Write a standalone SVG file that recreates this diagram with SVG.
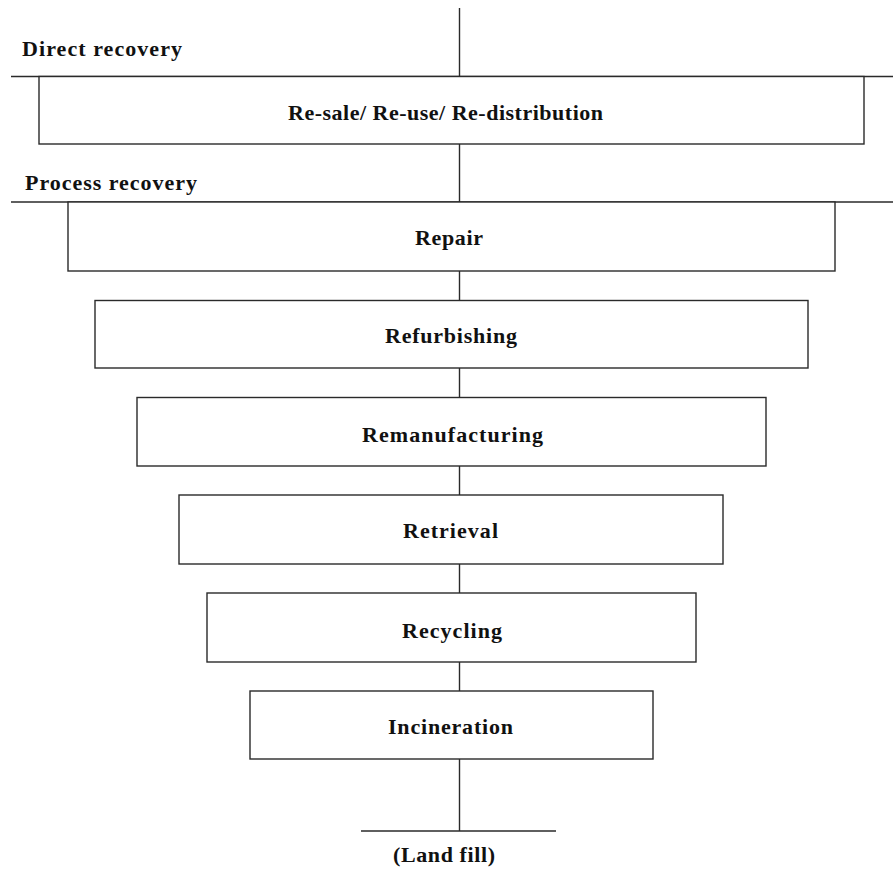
<svg xmlns="http://www.w3.org/2000/svg" width="893" height="870" viewBox="0 0 893 870">
<style>
.ln{stroke:#2a2a2a;stroke-width:1.4;fill:none}
.bx{stroke:#2a2a2a;stroke-width:1.4;fill:#fff}
.t{font-family:"Liberation Serif","Times New Roman",serif;font-weight:bold;font-size:22px;fill:#111}
</style>
<rect x="0" y="0" width="893" height="870" fill="#fff"/>
<g id="connectors">
<line class="ln" x1="459.5" y1="8" x2="459.5" y2="76.5"/>
<line class="ln" x1="11" y1="76.5" x2="893" y2="76.5"/>
<line class="ln" x1="459.5" y1="144" x2="459.5" y2="202"/>
<line class="ln" x1="11" y1="202" x2="893" y2="202"/>
<line class="ln" x1="459.5" y1="271" x2="459.5" y2="300.5"/>
<line class="ln" x1="459.5" y1="368" x2="459.5" y2="397.5"/>
<line class="ln" x1="459.5" y1="466" x2="459.5" y2="495"/>
<line class="ln" x1="459.5" y1="564" x2="459.5" y2="593"/>
<line class="ln" x1="459.5" y1="662" x2="459.5" y2="691"/>
<line class="ln" x1="459.5" y1="759" x2="459.5" y2="831"/>
<line class="ln" x1="361" y1="831" x2="556" y2="831"/>
</g>
<g id="label-direct">
<text class="t" x="22" y="56" textLength="160" lengthAdjust="spacing">Direct recovery</text>
</g>
<g id="label-process">
<text class="t" x="25" y="190" textLength="172" lengthAdjust="spacing">Process recovery</text>
</g>
<g id="node-resale">
<rect class="bx" x="39" y="76.5" width="825" height="67.5"/>
<text class="t" x="288" y="120" textLength="315" lengthAdjust="spacing">Re-sale/ Re-use/ Re-distribution</text>
</g>
<g id="node-repair">
<rect class="bx" x="68" y="202" width="767" height="69"/>
<text class="t" x="415" y="245" textLength="68" lengthAdjust="spacing">Repair</text>
</g>
<g id="node-refurbishing">
<rect class="bx" x="95" y="300.5" width="713" height="67.5"/>
<text class="t" x="385" y="343" textLength="132" lengthAdjust="spacing">Refurbishing</text>
</g>
<g id="node-remanufacturing">
<rect class="bx" x="137" y="397.5" width="629" height="68.5"/>
<text class="t" x="362" y="442" textLength="181" lengthAdjust="spacing">Remanufacturing</text>
</g>
<g id="node-retrieval">
<rect class="bx" x="179" y="495" width="544" height="69"/>
<text class="t" x="403" y="538" textLength="95" lengthAdjust="spacing">Retrieval</text>
</g>
<g id="node-recycling">
<rect class="bx" x="207" y="593" width="489" height="69"/>
<text class="t" x="402" y="638" textLength="100" lengthAdjust="spacing">Recycling</text>
</g>
<g id="node-incineration">
<rect class="bx" x="250" y="691" width="403" height="68"/>
<text class="t" x="388" y="734" textLength="125" lengthAdjust="spacing">Incineration</text>
</g>
<g id="label-landfill">
<text class="t" x="393" y="862" textLength="102" lengthAdjust="spacing">(Land fill)</text>
</g>
</svg>
